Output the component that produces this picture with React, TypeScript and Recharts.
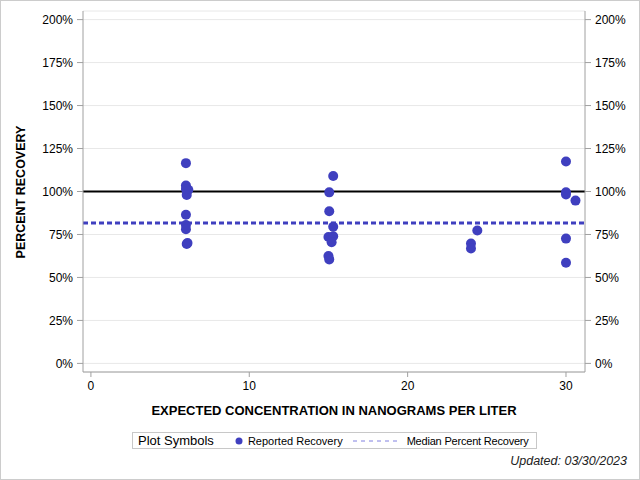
import React from "react";
import {
  ScatterChart,
  Scatter,
  XAxis,
  YAxis,
  CartesianGrid,
  ReferenceLine,
} from "recharts";

// expected concentration (ng/L) for each reported sample
const concentration = [
  6, 6, 6.15, 6.05, 6, 6, 6, 6, 6.05, 6.1,
  15.3, 15.05, 15.05, 15.3, 15, 15.3, 15.2, 15, 15.05,
  24.4, 24, 24,
  30, 30, 30, 30.6, 30, 30,
];
// percent recovery for each sample
const recovery = [
  116.5, 103.5, 101, 98, 101.5, 86.5, 80.5, 78, 69.5, 70,
  109, 99.5, 88.5, 79.5, 73.5, 74, 70.5, 62.5, 60.5,
  77.3, 69.7, 66.8,
  117.5, 99.5, 98.3, 94.7, 72.6, 58.6,
];
const medianRecovery = 81.7;
const targetRecovery = 100;
const yTicks = [0, 25, 50, 75, 100, 125, 150, 175, 200];
const xTicks = [0, 10, 20, 30];

const points = concentration.map((x, i) => ({ x, y: recovery[i] }));

const FONT = "'Liberation Sans', Arial, sans-serif";
const BLUE = "#3f3fbf";
const FRAME = "#a0a0a0";
const TICK = { fill: "#000", fontSize: 12, fontFamily: FONT };

const Dot = (props: any) => (
  <circle cx={props.cx} cy={props.cy} r={5} fill={BLUE} />
);

export default function App() {
  return (
    <div
      style={{
        position: "absolute",
        left: 0,
        top: 0,
        width: 640,
        height: 480,
        border: "1px solid #cccccc",
        boxSizing: "border-box",
        background: "#fff",
        fontFamily: FONT,
      }}
    >
      <div style={{ position: "absolute", left: -1, top: -1 }}>
        <ScatterChart
          width={640}
          height={480}
          margin={{ top: 11, right: 0, left: 0, bottom: 78 }}
        >
          <CartesianGrid
            xAxisId="bottom"
            yAxisId="left"
            vertical={false}
            stroke="#e8e8e8"
          />
          <XAxis
            xAxisId="bottom"
            type="number"
            dataKey="x"
            domain={[-0.5, 31.2]}
            ticks={xTicks}
            allowDataOverflow
            height={30}
            tickSize={5}
            tickMargin={4}
            stroke={FRAME}
            tick={TICK}
          />
          <XAxis
            xAxisId="top"
            orientation="top"
            type="number"
            dataKey="x"
            domain={[-0.5, 31.2]}
            allowDataOverflow
            height={0}
            tick={false}
            tickLine={false}
            stroke={FRAME}
          />
          <YAxis
            yAxisId="left"
            type="number"
            dataKey="y"
            domain={[-5, 205]}
            ticks={yTicks}
            allowDataOverflow
            width={83}
            tickSize={6}
            tickMargin={4}
            stroke={FRAME}
            tickFormatter={(v) => `${v}%`}
            tick={TICK}
          />
          <YAxis
            yAxisId="right"
            orientation="right"
            type="number"
            dataKey="y"
            domain={[-5, 205]}
            ticks={yTicks}
            allowDataOverflow
            width={55}
            tickSize={6}
            tickMargin={4}
            stroke={FRAME}
            tickFormatter={(v) => `${v}%`}
            tick={TICK}
          />
          <ReferenceLine
            xAxisId="bottom"
            yAxisId="left"
            y={targetRecovery}
            stroke="#000"
            strokeWidth={2}
          />
          <ReferenceLine
            xAxisId="bottom"
            yAxisId="left"
            y={medianRecovery}
            stroke={BLUE}
            strokeWidth={3}
            strokeDasharray="5 3"
          />
          <Scatter
            xAxisId="bottom"
            yAxisId="left"
            data={points}
            dataKey="y"
            shape={Dot}
            fill={BLUE}
            isAnimationActive={false}
          />
        </ScatterChart>
      </div>

      <div
        style={{
          position: "absolute",
          left: 20,
          top: 191,
          transform: "translate(-50%, -50%) rotate(-90deg)",
          fontSize: 12.5,
          fontWeight: "bold",
          whiteSpace: "nowrap",
          color: "#000",
        }}
      >
        PERCENT RECOVERY
      </div>
      <div
        style={{
          position: "absolute",
          left: 333,
          top: 409,
          transform: "translate(-50%, -50%)",
          fontSize: 13,
          fontWeight: "bold",
          whiteSpace: "nowrap",
          color: "#000",
        }}
      >
        EXPECTED CONCENTRATION IN NANOGRAMS PER LITER
      </div>

      <div
        style={{
          position: "absolute",
          left: 131,
          top: 431,
          width: 405,
          height: 17,
          border: "1px solid #c8c8c8",
          boxSizing: "border-box",
          display: "flex",
          alignItems: "center",
          whiteSpace: "nowrap",
          color: "#000",
        }}
      >
        <span style={{ fontSize: 13, marginLeft: 5 }}>Plot Symbols</span>
        <svg width={10} height={10} style={{ marginLeft: 20 }}>
          <circle cx={5} cy={5} r={3.5} fill={BLUE} />
        </svg>
        <span style={{ fontSize: 11, marginLeft: 4 }}>Reported Recovery</span>
        <svg width={46} height={10} style={{ marginLeft: 10 }}>
          <line
            x1={0}
            y1={5}
            x2={46}
            y2={5}
            stroke="#8080e0"
            strokeWidth={1}
            strokeDasharray="4 4"
          />
        </svg>
        <span style={{ fontSize: 11, marginLeft: 8, letterSpacing: -0.2 }}>
          Median Percent Recovery
        </span>
      </div>

      <div
        style={{
          position: "absolute",
          right: 12,
          top: 453,
          fontSize: 12.5,
          fontStyle: "italic",
          color: "#222",
          whiteSpace: "nowrap",
        }}
      >
        Updated: 03/30/2023
      </div>
    </div>
  );
}
